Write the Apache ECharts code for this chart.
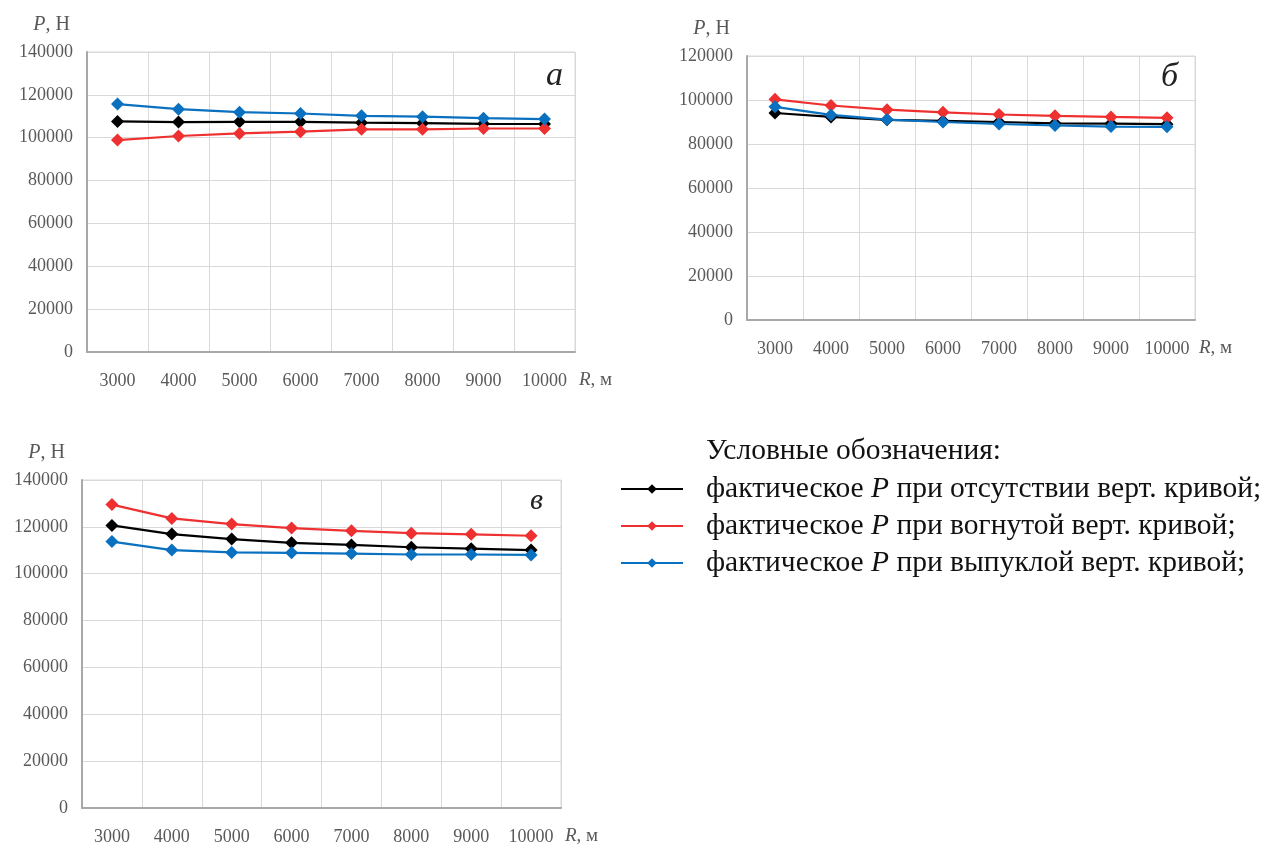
<!DOCTYPE html>
<html>
<head>
<meta charset="utf-8">
<script src="https://cdn.jsdelivr.net/npm/echarts@6/dist/echarts.min.js"></script>
<style>
  html, body { margin: 0; padding: 0; background: #ffffff; }
  #chart { width: 1268px; height: 848px; }
</style>
</head>
<body>
<div id="chart"></div>
<script>
// Radius of the vertical curve, m
const radii = ['3000', '4000', '5000', '6000', '7000', '8000', '9000', '10000'];

// Series names
const nameNone    = 'фактическое P при отсутствии верт. кривой;';
const nameConcave = 'фактическое P при вогнутой верт. кривой;';
const nameConvex  = 'фактическое P при выпуклой верт. кривой;';

// Panel а: force P, N
const aNone    = [107600, 107300, 107400, 107400, 107000, 106800, 106500, 106400];
const aConcave = [98900, 100800, 102000, 102800, 103900, 103900, 104300, 104300];
const aConvex  = [115700, 113300, 111900, 111300, 110200, 109800, 109100, 108700];

// Panel б
const bNone    = [94100, 92300, 91000, 90500, 90000, 89400, 89300, 89000];
const bConcave = [100300, 97500, 95600, 94400, 93400, 92800, 92300, 91900];
const bConvex  = [96900, 93200, 91100, 90000, 89100, 88400, 87900, 87800];

// Panel в
const cNone    = [120600, 116900, 114800, 113200, 112300, 111300, 110700, 110100];
const cConcave = [129500, 123600, 121200, 119500, 118300, 117300, 116800, 116200];
const cConvex  = [113700, 110100, 109100, 108900, 108600, 108200, 108200, 108000];

// Panel letters and y-axis ranges
const panelLetters = ['а', 'б', 'в'];
const yMax = [140000, 120000, 140000];
const yStep = 20000;

const SERIF = '"Liberation Serif", "Times New Roman", "DejaVu Serif", serif';
const GRAY = '#595959';
const COLORS = { none: '#000000', concave: '#ee3030', convex: '#0a70c0' };

const grids = [
  { left: 87, top: 52, width: 488, height: 300 },
  { left: 747, top: 56, width: 448, height: 264 },
  { left: 82, top: 480, width: 479, height: 328 }
];

const xAxes = grids.map((g, i) => ({
  type: 'category',
  gridIndex: i,
  data: radii,
  boundaryGap: true,
  name: '{i|R}, м',
  nameLocation: 'end',
  nameGap: 4,
  nameTextStyle: {
    fontFamily: SERIF, fontSize: 19, color: GRAY,
    align: 'left', verticalAlign: 'middle',
    padding: [56, 0, 0, 0],
    rich: { i: { fontFamily: SERIF, fontSize: 19, color: GRAY, fontStyle: 'italic' } }
  },
  axisLine: { show: true, lineStyle: { color: '#a8a8a8', width: 2 } },
  axisTick: { show: false },
  axisLabel: { fontFamily: SERIF, fontSize: 18, color: GRAY, margin: 20, interval: 0 },
  splitLine: { show: true, interval: 0, lineStyle: { color: '#d9d9d9', width: 1 } }
}));

const yAxes = grids.map((g, i) => ({
  type: 'value',
  gridIndex: i,
  min: 0,
  max: yMax[i],
  interval: yStep,
  name: '{i|P}, Н',
  nameLocation: 'end',
  nameGap: 27,
  nameTextStyle: {
    fontFamily: SERIF, fontSize: 20, color: GRAY,
    align: 'right', verticalAlign: 'middle',
    padding: [0, 17, 0, 0],
    rich: { i: { fontFamily: SERIF, fontSize: 20, color: GRAY, fontStyle: 'italic' } }
  },
  axisLine: { show: true, lineStyle: { color: '#a8a8a8', width: 2 } },
  axisTick: { show: false },
  axisLabel: {
    fontFamily: SERIF, fontSize: 18, color: GRAY, margin: 14,
    formatter: v => String(v)
  },
  splitLine: { show: true, lineStyle: { color: '#d9d9d9', width: 1 } }
}));

function lineSeries(name, data, color, idx) {
  return {
    name: name,
    type: 'line',
    xAxisIndex: idx,
    yAxisIndex: idx,
    data: data,
    symbol: 'diamond',
    symbolSize: 13,
    showSymbol: true,
    color: color,
    lineStyle: { color: color, width: 2.2 },
    itemStyle: { color: color },
    animation: false
  };
}

const panels = [
  [aNone, aConcave, aConvex],
  [bNone, bConcave, bConvex],
  [cNone, cConcave, cConvex]
];

const series = [];
panels.forEach((p, i) => {
  series.push(lineSeries(nameNone, p[0], COLORS.none, i));
  series.push(lineSeries(nameConcave, p[1], COLORS.concave, i));
  series.push(lineSeries(nameConvex, p[2], COLORS.convex, i));
});

// Letter positions inside each panel (top-right corner)
const letterPos = [
  { right: 1268 - 563, top: 59, size: 34 },
  { right: 1268 - 1178, top: 60, size: 34 },
  { right: 1268 - 543, top: 486, size: 30 }
];

const graphics = panelLetters.map((t, i) => ({
  type: 'text',
  right: letterPos[i].right,
  top: letterPos[i].top,
  style: {
    text: t,
    font: 'italic ' + letterPos[i].size + 'px ' + SERIF,
    fill: '#222222'
  }
}));

graphics.push({
  type: 'text',
  left: 706,
  top: 436,
  style: {
    text: 'Условные обозначения:',
    font: '29.5px ' + SERIF,
    fill: '#111111'
  }
});

function legendFormatter(name) {
  return name.replace('P', '{i|P}');
}

const option = {
  backgroundColor: '#ffffff',
  animation: false,
  grid: grids.map(g => Object.assign({ show: true, borderColor: '#d9d9d9', borderWidth: 1 }, g)),
  xAxis: xAxes,
  yAxis: yAxes,
  legend: {
    orient: 'vertical',
    left: 615,
    top: 469,
    itemWidth: 62,
    itemHeight: 12,
    itemGap: 7,
    data: [nameNone, nameConcave, nameConvex],
    formatter: legendFormatter,
    textStyle: {
      fontFamily: SERIF,
      fontSize: 29.5,
      color: '#111111',
      padding: [0, 0, 0, 18],
      lineHeight: 30,
      rich: { i: { fontFamily: SERIF, fontSize: 29.5, color: '#111111', fontStyle: 'italic', lineHeight: 30 } }
    }
  },
  graphic: graphics,
  series: series
};

const chart = echarts.init(document.getElementById('chart'), null, { renderer: 'canvas' });
chart.setOption(option);
</script>
</body>
</html>
